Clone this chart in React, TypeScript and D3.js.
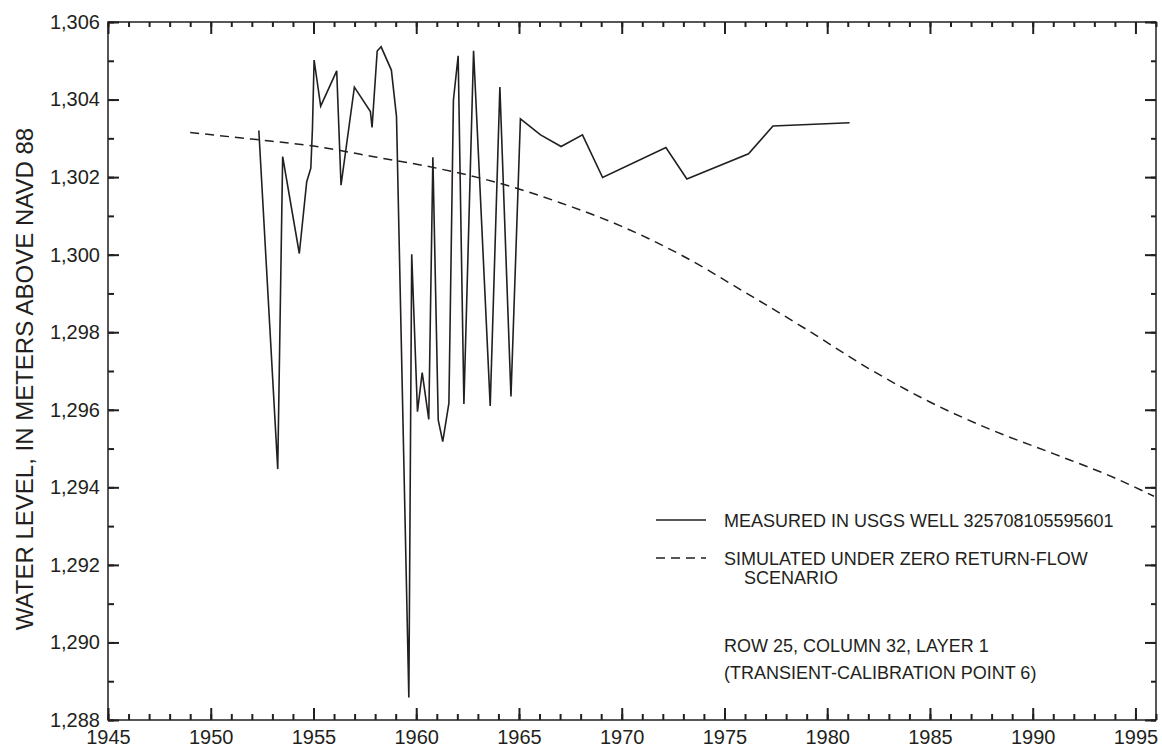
import React, { useEffect, useRef } from "react";
import * as d3 from "d3";

// Measured water levels, USGS well 325708105595601 (decimal year, meters above NAVD 88)
const measuredYears = [
  1952.34, 1953.26, 1953.5, 1954.31, 1954.67, 1954.87, 1954.95, 1955.03, 1955.35, 1956.13,
  1956.34, 1956.99, 1957.77, 1957.85, 1958.1, 1958.29, 1958.79, 1959.04, 1959.64, 1959.78,
  1960.06, 1960.29, 1960.61, 1960.81, 1961.07, 1961.29, 1961.59, 1961.81, 1962.04, 1962.32,
  1962.79, 1963.6, 1964.07, 1964.61, 1965.07, 1966.05, 1967.05, 1968.09, 1969.07, 1972.15,
  1973.17, 1976.17, 1977.36, 1981.09,
];
const measuredLevels = [
  1303.2, 1294.47, 1302.53, 1300.03, 1301.88, 1302.23, 1303.26, 1305.02, 1303.83, 1304.74,
  1301.79, 1304.32, 1303.69, 1303.28, 1305.25, 1305.36, 1304.76, 1303.56, 1288.58, 1300.01,
  1295.95, 1296.96, 1295.75, 1302.51, 1295.74, 1295.18, 1296.17, 1303.99, 1305.13, 1296.15,
  1305.26, 1296.1, 1304.32, 1296.34, 1303.5, 1303.09, 1302.79, 1303.09, 1301.99, 1302.76,
  1301.95, 1302.6, 1303.32, 1303.4,
];

// Simulated water levels under the zero return-flow scenario
const simulatedYears = [
  1949.0, 1952, 1955, 1958, 1961, 1964, 1967, 1970, 1973, 1976, 1979, 1982, 1985, 1988, 1991,
  1994, 1995.9,
];
const simulatedLevels = [
  1303.15, 1302.98, 1302.8, 1302.52, 1302.23, 1301.85, 1301.34, 1300.73, 1299.96, 1299.03,
  1298.07, 1297.07, 1296.2, 1295.48, 1294.87, 1294.24, 1293.77,
];

const yearDomain = [1945, 1996];
const levelDomain = [1288, 1306];
const majorYearTicks = [1945, 1950, 1955, 1960, 1965, 1970, 1975, 1980, 1985, 1990, 1995];
const minorYearTicks = d3.range(1945, 1997, 1);
const majorLevelTicks = [1288, 1290, 1292, 1294, 1296, 1298, 1300, 1302, 1304, 1306];
const minorLevelTicks = d3.range(1288, 1307, 1);

const legendLabels = [
  "MEASURED IN USGS WELL 325708105595601",
  "SIMULATED UNDER ZERO RETURN-FLOW",
  "SCENARIO",
];
const noteLines = ["ROW 25, COLUMN 32, LAYER 1", "(TRANSIENT-CALIBRATION POINT 6)"];
const yTitle = "WATER LEVEL, IN METERS ABOVE NAVD 88";

const W = 1162;
const H = 750;
const M = { left: 108, right: 6, top: 22, bottom: 30 };
const INK = "#231f20";
const FONT = "'Liberation Sans', Arial, Helvetica, sans-serif";

export default function App() {
  const axesRef = useRef<SVGGElement>(null);

  const x = d3.scaleLinear().domain(yearDomain).range([M.left, W - M.right]);
  const y = d3.scaleLinear().domain(levelDomain).range([H - M.bottom, M.top]);

  const line = d3
    .line<number>()
    .x((_, i) => x(measuredYears[i]))
    .y((d) => y(d));
  const simLine = d3
    .line<number>()
    .x((_, i) => x(simulatedYears[i]))
    .y((d) => y(d))
    .curve(d3.curveMonotoneX);

  useEffect(() => {
    const g = d3.select(axesRef.current);
    g.selectAll("*").remove();
    const x0 = M.left;
    const x1 = W - M.right;
    const y0 = H - M.bottom;
    const y1 = M.top;
    const fmt = d3.format(",");

    const style = (sel: any) => {
      sel.select(".domain").remove();
      sel.selectAll("line").attr("stroke", INK).attr("stroke-width", 2);
      sel
        .selectAll("text")
        .attr("fill", INK)
        .style("font-family", FONT)
        .style("font-size", "20px");
    };

    // bottom
    g.append("g")
      .attr("transform", `translate(0,${y0})`)
      .call(d3.axisBottom(x).tickValues(minorYearTicks).tickSize(-6).tickFormat(() => ""))
      .call(style);
    g.append("g")
      .attr("transform", `translate(0,${y0})`)
      .call(
        d3.axisBottom(x).tickValues(majorYearTicks).tickSize(-12).tickPadding(10).tickFormat(d3.format("d"))
      )
      .call(style);
    // top
    g.append("g")
      .attr("transform", `translate(0,${y1})`)
      .call(d3.axisTop(x).tickValues(minorYearTicks).tickSize(-5).tickFormat(() => ""))
      .call(style);
    g.append("g")
      .attr("transform", `translate(0,${y1})`)
      .call(d3.axisTop(x).tickValues(majorYearTicks).tickSize(-12).tickFormat(() => ""))
      .call(style);
    // left
    g.append("g")
      .attr("transform", `translate(${x0},0)`)
      .call(d3.axisLeft(y).tickValues(minorLevelTicks).tickSize(-6).tickFormat(() => ""))
      .call(style);
    g.append("g")
      .attr("transform", `translate(${x0},0)`)
      .call(
        d3.axisLeft(y).tickValues(majorLevelTicks).tickSize(-11).tickPadding(8).tickFormat((d: any) => fmt(d))
      )
      .call(style);
    // right
    g.append("g")
      .attr("transform", `translate(${x1},0)`)
      .call(d3.axisRight(y).tickValues(minorLevelTicks).tickSize(-5).tickFormat(() => ""))
      .call(style);
    g.append("g")
      .attr("transform", `translate(${x1},0)`)
      .call(d3.axisRight(y).tickValues(majorLevelTicks).tickSize(-11).tickFormat(() => ""))
      .call(style);
  }, []);

  const legX = 656;
  const legLen = 50;
  const textX = 724;

  return (
    <svg
      width={W}
      height={H}
      style={{ position: "absolute", left: 0, top: 0, background: "#fff" }}
      fontFamily={FONT}
    >
      <rect x={0} y={0} width={W} height={H} fill="#fff" />
      <path
        d={simLine(simulatedLevels) || ""}
        fill="none"
        stroke={INK}
        strokeWidth={1.5}
        strokeDasharray="9,6"
      />
      <path d={line(measuredLevels) || ""} fill="none" stroke={INK} strokeWidth={1.6} strokeLinejoin="miter" />
      <rect
        x={M.left}
        y={M.top}
        width={W - M.left - M.right}
        height={H - M.top - M.bottom}
        fill="none"
        stroke={INK}
        strokeWidth={1.5}
      />
      <g ref={axesRef} />

      <text
        transform={`translate(24,${(M.top + H - M.bottom) / 2 + 8}) rotate(-90)`}
        textAnchor="middle"
        dominantBaseline="central"
        fontSize={24}
        fill={INK}
      >
        {yTitle}
      </text>

      {/* legend */}
      <line x1={legX} x2={legX + legLen} y1={520} y2={520} stroke={INK} strokeWidth={1.6} />
      <text x={textX} y={527} fontSize={18} fill={INK}>
        {legendLabels[0]}
      </text>
      <line
        x1={legX}
        x2={legX + legLen}
        y1={558}
        y2={558}
        stroke={INK}
        strokeWidth={1.5}
        strokeDasharray="9,6"
      />
      <text x={textX} y={565} fontSize={18} fill={INK}>
        {legendLabels[1]}
      </text>
      <text x={textX + 20} y={584} fontSize={18} fill={INK}>
        {legendLabels[2]}
      </text>

      <text x={textX} y={652} fontSize={18} fill={INK}>
        {noteLines[0]}
      </text>
      <text x={textX} y={679} fontSize={18} fill={INK}>
        {noteLines[1]}
      </text>
    </svg>
  );
}
